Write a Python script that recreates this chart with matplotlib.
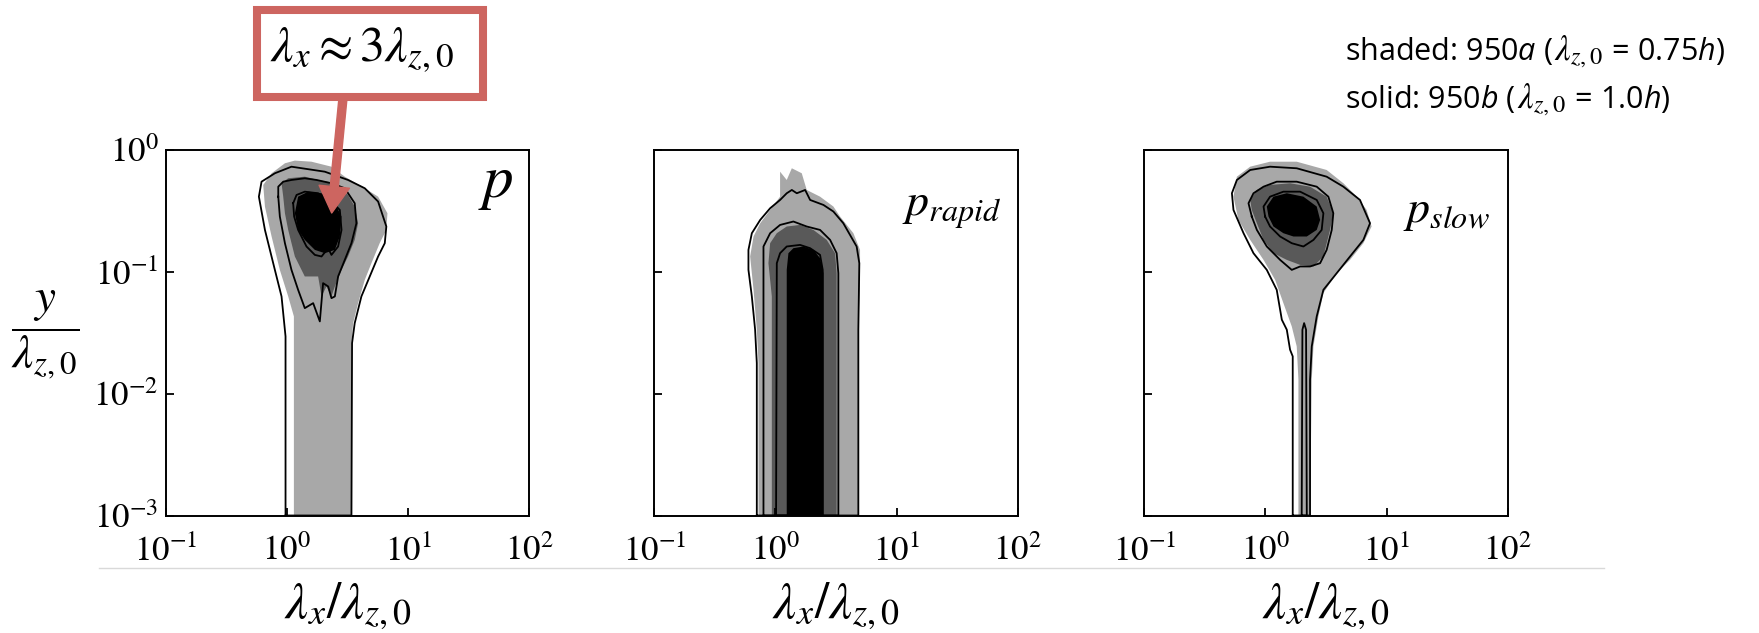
import numpy as np
import matplotlib
matplotlib.use("Agg")
import matplotlib.pyplot as plt
from matplotlib.patches import Rectangle, FancyArrowPatch
from matplotlib.lines import Line2D
from matplotlib.ticker import NullLocator

plt.rcParams['font.family'] = 'STIXGeneral'
plt.rcParams['mathtext.fontset'] = 'stix'
# custom math font set, used only for the legend text
plt.rcParams['mathtext.rm'] = 'Open Sans'
plt.rcParams['mathtext.it'] = 'Open Sans:italic'

# axis ticks
xtick_vals = [0.1, 1, 10, 100]
xtick_labels = [r'$10^{-1}$', r'$10^{0}$', r'$10^{1}$', r'$10^{2}$']
ytick_vals = [1e-3, 1e-2, 1e-1, 1]
ytick_labels = [r'$10^{-3}$', r'$10^{-2}$', r'$10^{-1}$', r'$10^{0}$']

panel_names = [r'$p$', r'$p_{rapid}$', r'$p_{slow}$']

# legend lines, split so the lambda can be set in a serif face
legend_parts = [
    [r'shaded: 950$\mathit{a}$ (', r'$\lambda_{z,0}$', r' = 0.75$\mathit{h}$)'],
    [r'solid: 950$\mathit{b}$ (', r'$\lambda_{z,0}$', r' = 1.0$\mathit{h}$)'],
]

# contour outlines, log10(lambda_x/lambda_z0), log10(y/lambda_z0)
# ---- p ----
p_fill1_lx = [0.058, 0.058, 0.011, -0.058, -0.126, -0.181, -0.195, -0.126, -0.016, 0.066, 0.203, 0.368,
              0.478, 0.643, 0.753, 0.830, 0.821, 0.766, 0.698, 0.643, 0.588, 0.547, 0.533, 0.533]
p_fill1_ly = [-3, -1.366, -1.202, -0.984, -0.710, -0.464, -0.287, -0.191, -0.109, -0.087, -0.096, -0.137,
              -0.219, -0.314, -0.383, -0.519, -0.656, -0.765, -0.929, -1.066, -1.257, -1.421, -1.585, -3]
p_line1_lx = [-0.011, -0.011, -0.044, -0.099, -0.181, -0.231, -0.209, -0.099, 0.038, 0.313, 0.505, 0.643,
              0.753, 0.821, 0.808, 0.753, 0.684, 0.615, 0.560, 0.538, 0.533]
p_line1_ly = [-3, -1.530, -1.202, -0.984, -0.656, -0.383, -0.260, -0.191, -0.137, -0.178, -0.246, -0.314,
              -0.423, -0.628, -0.765, -0.874, -1.038, -1.202, -1.421, -1.585, -3]
p_fill2_lx = [-0.030, -0.044, 0.011, 0.148, 0.258, 0.396, 0.505, 0.560, 0.588, 0.560, 0.505, 0.451, 0.396,
              0.368, 0.327, 0.286, 0.258, 0.148, 0.066, 0.011, -0.016]
p_fill2_ly = [-0.383, -0.273, -0.232, -0.219, -0.246, -0.273, -0.369, -0.464, -0.601, -0.738, -0.874, -0.984,
              -1.120, -1.202, -1.120, -1.202, -1.038, -1.038, -0.874, -0.656, -0.519]
p_line2_lx = [-0.071, -0.071, -0.030, 0.038, 0.148, 0.245, 0.368, 0.478, 0.560, 0.574, 0.533, 0.478, 0.423,
              0.396, 0.368, 0.341, 0.299, 0.272, 0.217, 0.148, 0.093, 0.038, -0.016, -0.058]
p_line2_ly = [-0.383, -0.301, -0.260, -0.246, -0.232, -0.246, -0.273, -0.314, -0.437, -0.601, -0.765, -0.902,
              -1.038, -1.202, -1.216, -1.120, -1.093, -1.407, -1.257, -1.298, -1.148, -0.984, -0.765, -0.546]
p_fill3_lx = [0.066, 0.093, 0.176, 0.286, 0.396, 0.451, 0.437, 0.396, 0.313, 0.231, 0.148, 0.093]
p_fill3_ly = [-0.519, -0.383, -0.342, -0.355, -0.437, -0.546, -0.710, -0.820, -0.847, -0.820, -0.738, -0.656]
p_line3_lx = [0.052, 0.080, 0.148, 0.258, 0.368, 0.437, 0.451, 0.423, 0.368, 0.341, 0.286, 0.231, 0.162,
              0.093, 0.060]
p_line3_ly = [-0.437, -0.369, -0.342, -0.355, -0.423, -0.492, -0.656, -0.792, -0.861, -0.806, -0.874, -0.861,
              -0.792, -0.656, -0.546]

# ---- p_rapid ----
pr_fill1_lx = [-0.140, -0.140, -0.154, -0.181, -0.209, -0.181, -0.126, -0.044, 0.038, 0.038, 0.093, 0.135,
               0.217, 0.258, 0.368, 0.478, 0.533, 0.643, 0.698, 0.698, 0.684, 0.684]
pr_fill1_ly = [-3, -1.749, -1.475, -1.148, -0.874, -0.710, -0.601, -0.492, -0.383, -0.178, -0.246, -0.150,
               -0.191, -0.328, -0.383, -0.464, -0.546, -0.683, -0.820, -1.066, -1.475, -3]
pr_line1_lx = [-0.154, -0.154, -0.168, -0.195, -0.223, -0.223, -0.195, -0.126, -0.044, 0.038, 0.093, 0.135,
               0.176, 0.245, 0.286, 0.396, 0.478, 0.560, 0.670, 0.692, 0.684, 0.684]
pr_line1_ly = [-3, -1.749, -1.475, -1.202, -0.984, -0.820, -0.683, -0.574, -0.478, -0.410, -0.355, -0.328,
               -0.355, -0.328, -0.410, -0.451, -0.505, -0.601, -0.792, -0.929, -1.475, -3]
pr_fill2_lx = [-0.030, -0.030, -0.058, -0.044, 0.011, 0.093, 0.203, 0.313, 0.423, 0.492, 0.505, 0.505]
pr_fill2_ly = [-3, -1.202, -0.929, -0.765, -0.683, -0.628, -0.615, -0.656, -0.738, -0.847, -1.011, -3]
pr_line2_lx = [-0.099, -0.099, -0.044, 0.038, 0.148, 0.258, 0.368, 0.451, 0.505, 0.519, 0.519]
pr_line2_ly = [-3, -0.792, -0.683, -0.615, -0.587, -0.628, -0.656, -0.738, -0.847, -1.011, -3]
pr_fill3_lx = [0.093, 0.093, 0.107, 0.148, 0.231, 0.313, 0.368, 0.396, 0.396]
pr_fill3_ly = [-3, -0.984, -0.847, -0.806, -0.792, -0.820, -0.888, -1.011, -3]
pr_line3_lx = [0.005, 0.011, 0.038, 0.093, 0.203, 0.286, 0.368, 0.390, 0.390]
pr_line3_ly = [-3, -0.929, -0.847, -0.792, -0.779, -0.806, -0.861, -0.984, -3]

# ---- p_slow ----
ps_fill1_lx = [0.272, 0.272, 0.258, 0.217, 0.148, 0.080, -0.016, -0.126, -0.223, -0.264, -0.236, -0.126,
               0.038, 0.258, 0.505, 0.643, 0.753, 0.835, 0.876, 0.808, 0.698, 0.588, 0.478, 0.437, 0.396,
               0.382, 0.368]
ps_fill1_ly = [-3, -1.885, -1.612, -1.448, -1.257, -1.066, -0.902, -0.738, -0.574, -0.383, -0.219, -0.137,
               -0.096, -0.096, -0.164, -0.273, -0.383, -0.492, -0.628, -0.765, -0.902, -1.011, -1.175, -1.366,
               -1.612, -1.885, -3]
ps_line1_lx = [0.225, 0.225, 0.203, 0.176, 0.135, 0.093, 0.011, -0.099, -0.181, -0.264, -0.277, -0.236,
               -0.126, 0.038, 0.258, 0.505, 0.643, 0.780, 0.863, 0.808, 0.698, 0.588, 0.478, 0.423, 0.382,
               0.368, 0.368]
ps_line1_ly = [-3, -1.694, -1.639, -1.475, -1.393, -1.148, -0.984, -0.847, -0.683, -0.492, -0.355, -0.246,
               -0.164, -0.137, -0.150, -0.219, -0.301, -0.410, -0.601, -0.738, -0.874, -1.011, -1.148, -1.366,
               -1.612, -1.885, -3]
ps_sliver_lx = [0.299, 0.305, 0.319, 0.335, 0.341]
ps_sliver_ly = [-3, -1.475, -1.421, -1.475, -3]
ps_fill2_lx = [-0.113, -0.126, -0.071, 0.038, 0.203, 0.368, 0.505, 0.560, 0.533, 0.478, 0.396, 0.286, 0.176,
               0.066, -0.016, -0.071]
ps_fill2_ly = [-0.492, -0.410, -0.328, -0.287, -0.273, -0.301, -0.383, -0.519, -0.656, -0.874, -0.956, -0.943,
               -0.902, -0.847, -0.738, -0.601]
ps_line2_lx = [-0.113, -0.140, -0.099, -0.016, 0.093, 0.258, 0.423, 0.519, 0.560, 0.547, 0.505, 0.451, 0.368,
               0.286, 0.217, 0.121, 0.011, -0.071]
ps_line2_ly = [-0.546, -0.437, -0.355, -0.301, -0.260, -0.260, -0.301, -0.383, -0.519, -0.656, -0.820, -0.929,
               -0.956, -0.956, -0.984, -0.902, -0.792, -0.656]
ps_fill3_lx = [0.025, 0.011, 0.066, 0.176, 0.313, 0.423, 0.451, 0.423, 0.341, 0.231, 0.148, 0.066]
ps_fill3_ly = [-0.546, -0.464, -0.383, -0.355, -0.383, -0.464, -0.574, -0.656, -0.710, -0.710, -0.683, -0.628]
ps_line3_lx = [-0.003, -0.016, 0.038, 0.148, 0.286, 0.423, 0.478, 0.464, 0.396, 0.313, 0.217, 0.121, 0.038]
ps_line3_ly = [-0.546, -0.464, -0.383, -0.342, -0.342, -0.410, -0.519, -0.656, -0.738, -0.792, -0.765, -0.710,
               -0.628]

shade_colors = ['#a8a8a8', '#595959', '#000000']

panels = [
    dict(fills=[(p_fill1_lx, p_fill1_ly), (p_fill2_lx, p_fill2_ly), (p_fill3_lx, p_fill3_ly)],
         lines=[(p_line1_lx, p_line1_ly), (p_line2_lx, p_line2_ly), (p_line3_lx, p_line3_ly)],
         label_size=44, label_xy=(0.956, 0.905)),
    dict(fills=[(pr_fill1_lx, pr_fill1_ly), (pr_fill2_lx, pr_fill2_ly), (pr_fill3_lx, pr_fill3_ly)],
         lines=[(pr_line1_lx, pr_line1_ly), (pr_line2_lx, pr_line2_ly), (pr_line3_lx, pr_line3_ly)],
         label_size=33, label_xy=(0.955, 0.835)),
    dict(fills=[(ps_fill1_lx, ps_fill1_ly), (ps_fill2_lx, ps_fill2_ly), (ps_fill3_lx, ps_fill3_ly)],
         lines=[(ps_line1_lx, ps_line1_ly), (ps_sliver_lx, ps_sliver_ly), (ps_line2_lx, ps_line2_ly),
                (ps_line3_lx, ps_line3_ly)],
         label_size=33, label_xy=(0.950, 0.830)),
]

W, H = 1759, 633
fig = plt.figure(figsize=(W / 100, H / 100), dpi=100)

lefts = [165.7, 654.3, 1144.3]
for i, (left, pan) in enumerate(zip(lefts, panels)):
    ax = fig.add_axes([left / W, (H - 515.5) / H, 363.5 / W, 365.5 / H])
    ax.set_xscale('log')
    ax.set_yscale('log')
    for (lx, ly), col in zip(pan['fills'], shade_colors):
        ax.fill(10 ** np.array(lx), 10 ** np.array(ly), color=col, lw=0, zorder=1)
    for lx, ly in pan['lines']:
        lx = list(lx) + [lx[0]]
        ly = list(ly) + [ly[0]]
        ax.plot(10 ** np.array(lx), 10 ** np.array(ly), color='black', lw=1.3, zorder=2)
    ax.set_xlim(0.1, 100)
    ax.set_ylim(1e-3, 1)
    ax.set_xticks(xtick_vals)
    ax.set_xticklabels(xtick_labels)
    ax.set_yticks(ytick_vals)
    if i == 0:
        ax.set_yticklabels(ytick_labels)
    else:
        ax.set_yticklabels([])
    ax.xaxis.set_minor_locator(NullLocator())
    ax.yaxis.set_minor_locator(NullLocator())
    ax.tick_params(direction='in', length=6, width=1.3, top=False, right=False, labelsize=25)
    ax.tick_params(axis='x', pad=14)
    ax.tick_params(axis='y', pad=5)
    for s in ax.spines.values():
        s.set_linewidth(1.4)
    ax.text(pan['label_xy'][0], pan['label_xy'][1], panel_names[i], transform=ax.transAxes,
            ha='right', va='center', fontsize=pan['label_size'])
    # x label
    fig.text((left + 363.5 / 2) / W, 1 - 606 / H, r'$\lambda_x/\lambda_{z,0}$',
             ha='center', va='center', fontsize=37)

# y label
fig.text(45 / W, 1 - 335 / H, r'$\dfrac{y}{\lambda_{z,0}}$', ha='center', va='center', fontsize=34)

# faint rule under the tick labels
fig.add_artist(Line2D([99 / W, 1604 / W], [1 - 568 / H, 1 - 568 / H], color='#d9d9d9', lw=1))

# annotation box and arrow
red = '#cd6560'
arrow = FancyArrowPatch((343 / W, 1 - 98 / H), (331.7 / W, 1 - 213 / H), transform=fig.transFigure,
                        arrowstyle='simple,head_length=19,head_width=22,tail_width=5.8',
                        mutation_scale=1, color=red, shrinkA=0, shrinkB=0, zorder=5)
fig.add_artist(arrow)
box = Rectangle((256.7 / W, 1 - 96.7 / H), 226 / W, 86.7 / H, transform=fig.transFigure,
                facecolor='white', edgecolor=red, lw=5.8, zorder=6)
fig.add_artist(box)
fig.text(362 / W, 1 - 50 / H, r'$\lambda_x \approx 3\lambda_{z,0}$', ha='center', va='center',
         fontsize=36, zorder=7)

# legend text, pieces placed one after another on a common baseline
renderer = fig.canvas.get_renderer()
for parts, base_px in zip(legend_parts, [60, 108]):
    x_px = 1345
    for k, s in enumerate(parts):
        if k == 1:
            t = fig.text(x_px / W, 1 - base_px / H, s, ha='left', va='baseline', fontsize=25,
                         math_fontfamily='stix')
        else:
            t = fig.text(x_px / W, 1 - base_px / H, s, ha='left', va='baseline', fontsize=22,
                         family='Open Sans', math_fontfamily='custom')
        x_px = t.get_window_extent(renderer).x1 + 1

fig.savefig('out.png', dpi=100)
